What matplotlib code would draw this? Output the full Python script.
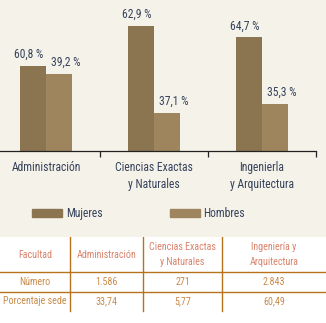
import numpy as np
import matplotlib
matplotlib.use("Agg")
import matplotlib.pyplot as plt
from matplotlib.patches import Patch
from matplotlib import font_manager

nombres = {f.name for f in font_manager.fontManager.ttflist}
familia = 'DejaVu Sans'
for cand in ['Roboto Condensed', 'Liberation Sans Narrow', 'Open Sans Condensed', 'Roboto']:
    if cand in nombres:
        familia = cand
        break
plt.rcParams['font.family'] = [familia, 'DejaVu Sans']
condensada = familia in ('Roboto Condensed', 'Liberation Sans Narrow', 'Open Sans Condensed')
fs = 8.4 if condensada else 7.4
fs_tab = 7.2 if condensada else 6.7

facultades = ["Administración", "Ciencias Exactas\ny Naturales", "Ingenierla\ny Arquitectura"]
pct_mujeres = [60.8, 62.9, 64.7]
pct_hombres = [39.2, 37.1, 35.3]
# the bars in the source are not drawn to scale: heights
alto_mujeres = [60.8, 89.6, 81.3]
alto_hombres = [55.0, 27.3, 33.5]

tabla_cols = ["Facultad", "Administración", "Ciencias Exactas\ny Naturales", "Ingeniería y\nArquitectura"]
tabla_numero = ["Número", "1.586", "271", "2.843"]
tabla_pct = ["Porcentaje sede", "33,74", "5,77", "60,49"]

bg = '#f5f2ea'
c_muj = '#8a7550'
c_hom = '#9f855d'
c_txt = '#34425a'
c_line = '#b8721c'
c_head = '#d9826a'
c_body = '#c98a48'

W, H = 326, 323
fig = plt.figure(figsize=(W / 100, H / 100), dpi=100)
fig.patch.set_facecolor(bg)

def px(x0, y0, w, h):
    # pixel box (from top-left) -> figure fraction
    return [x0 / W, 1 - (y0 + h) / H, w / W, h / H]

# ---- bars ----
ax = fig.add_axes(px(0, 0, 316, 150.5))
ax.set_facecolor(bg)
x = np.arange(len(facultades))
w = 0.245
ax.bar(x - w / 2, alto_mujeres, w, color=c_muj)
ax.bar(x + w / 2, alto_hombres, w, color=c_hom)
ax.set_xlim(2.5 - 316 / 108, 2.5)
ax.set_ylim(0, 150.5 / 1.39)

for i in range(len(x)):
    ax.annotate(f"{pct_mujeres[i]:.1f} %".replace('.', ','), (x[i] - w / 2, alto_mujeres[i]),
                xytext=(-3, 3.5), textcoords='offset points', ha='center', va='bottom',
                fontsize=fs, color=c_txt)
    ax.annotate(f"{pct_hombres[i]:.1f} %".replace('.', ','), (x[i] + w / 2, alto_hombres[i]),
                xytext=(4.5, 3.5), textcoords='offset points', ha='center', va='bottom',
                fontsize=fs, color=c_txt)

for s in ['top', 'right', 'left']:
    ax.spines[s].set_visible(False)
ax.spines['bottom'].set_color('#222222')
ax.spines['bottom'].set_linewidth(0.9)
ax.set_yticks([])
ax.set_xticks([0.5, 1.5, 2.5])
ax.set_xticklabels([])
ax.tick_params(axis='x', which='major', length=4.5, width=0.9, color='#222222', direction='out')
ax.set_xticks(x, minor=True)
ax.set_xticklabels(facultades, minor=True, fontsize=fs, color=c_txt)
ax.tick_params(axis='x', which='minor', length=0, pad=7.5)
for t in ax.get_xticklabels(minor=True):
    t.set_linespacing(1.45)

# ---- legend ----
em = fs * 100 / 72
handles = [Patch(color=c_muj, label='Mujeres'), Patch(color=c_hom, label='Hombres')]
leg = fig.legend(handles=handles, loc='center left', bbox_to_anchor=(32 / W, 1 - 213.5 / H),
                 ncol=2, frameon=False, fontsize=fs, handlelength=30 / em,
                 handleheight=9 / em, handletextpad=4 / em,
                 columnspacing=67 / em, borderpad=0, borderaxespad=0)
for t in leg.get_texts():
    t.set_color(c_txt)

# ---- table ----
tb = fig.add_axes(px(0, 237, 326, 86))
tb.set_facecolor('white')
tb.set_xlim(0, 326)
tb.set_ylim(86, 0)
tb.axis('off')
tb.add_patch(plt.Rectangle((0, 0), 326, 86, color='white', zorder=0))

col_edges = [0, 70, 143, 222, 326]
row_edges = [0, 35, 54.7, 73.7]
for xe in col_edges[1:-1]:
    tb.plot([xe, xe], [0, row_edges[-1]], color=c_line, lw=1.0)
for ye in row_edges[1:3]:
    tb.plot([0, 326], [ye, ye], color=c_line, lw=1.0)

rows = [tabla_cols, tabla_numero, tabla_pct]
colors = [c_head, c_body, c_body]
for r, fila in enumerate(rows):
    yc = (row_edges[r] + row_edges[r + 1]) / 2
    for c, val in enumerate(fila):
        xc = (col_edges[c] + col_edges[c + 1]) / 2
        tb.text(xc, yc, val, ha='center', va='center', fontsize=fs_tab,
                color=colors[r], linespacing=1.65)

fig.savefig('out.png', dpi=100, facecolor=bg)
